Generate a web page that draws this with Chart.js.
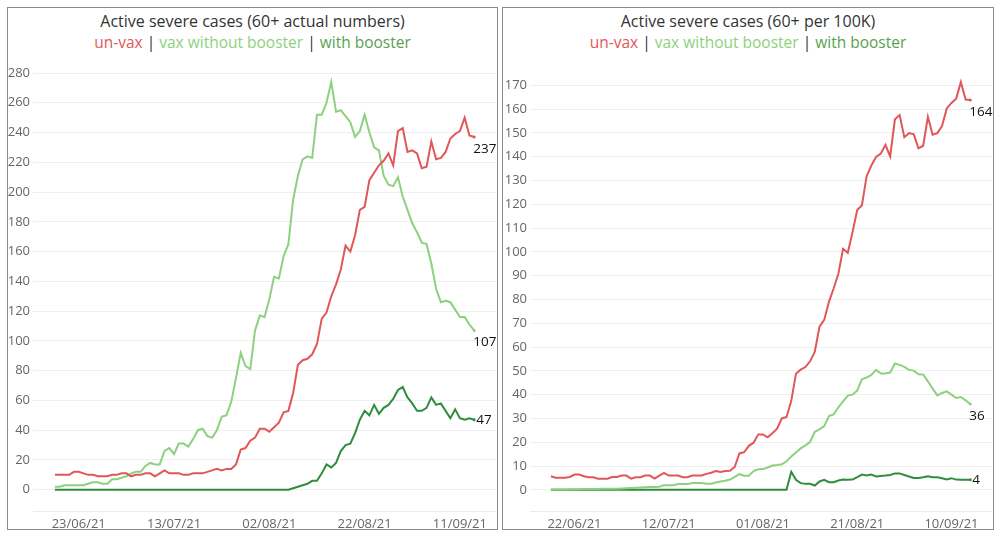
<!DOCTYPE html>
<html>
<head>
<meta charset="utf-8">
<script src="https://cdn.jsdelivr.net/npm/chart.js@4.4.1/dist/chart.umd.min.js"></script>
<style>
  html, body { margin:0; padding:0; background:#fff; }
  body { width:1000px; height:535px; position:relative; overflow:hidden; font-family:"Open Sans", sans-serif; }
  .panel { position:absolute; border:1px solid #8a8a8a; box-sizing:border-box; background:#fff; }
  .title { position:absolute; left:0; right:0; top:2px; text-align:center; font-size:16px; color:#333; line-height:22px; white-space:nowrap; }
  .sub { position:absolute; left:0; right:0; top:23px; text-align:center; font-size:15.5px; color:#333; line-height:22px; white-space:nowrap; }
  .red { color:#e15759; }
  .lg { color:#8cd17d; }
  .dg { color:#59a14f; }
  canvas { position:absolute; }
</style>
</head>
<body>
<div class="panel" id="p1" style="left:7px;top:7px;width:491px;height:523px;">
  <div class="title">Active severe cases (60+ actual numbers)</div>
  <div class="sub"><span class="red">un-vax</span> | <span class="lg">vax without booster</span> | <span class="dg">with booster</span></div>
  <canvas id="c1" width="489" height="479" style="left:0px;top:42px;"></canvas>
</div>
<div class="panel" id="p2" style="left:502px;top:7px;width:492px;height:523px;">
  <div class="title">Active severe cases (60+ per 100K)</div>
  <div class="sub"><span class="red">un-vax</span> | <span class="lg">vax without booster</span> | <span class="dg">with booster</span></div>
  <canvas id="c2" width="490" height="479" style="left:0px;top:42px;"></canvas>
</div>
<script>
// ---------- DATA ----------
const leftStart = '2021-06-18';
const rightStart = '2021-06-17';

const leftXTicks = ['23/06/21','13/07/21','02/08/21','22/08/21','11/09/21'];
const rightXTicks = ['22/06/21','12/07/21','01/08/21','21/08/21','10/09/21'];
const leftYTicks = [0,20,40,60,80,100,120,140,160,180,200,220,240,260,280];
const rightYTicks = [0,10,20,30,40,50,60,70,80,90,100,110,120,130,140,150,160,170];

// Left chart: actual numbers
const leftUnvax = [10,10,10,10,12,12,11,10,10,9,
  9,9,10,10,11,11,9,10,10,11,
  11,9,11,13,11,11,11,10,10,11,
  11,11,12,13,14,13,14,14,17,27,
  28,33,35,41,41,39,42,45,52,53,
  65,84,87,88,91,98,115,119,130,138,
  148,164,160,171,188,190,208,213,218,221,
  226,218,241,243,227,228,226,216,217,234,
  222,223,227,236,239,241,250,238,237];
const leftVax = [2,2,3,3,3,3,3,4,5,5,
  4,4,7,7,8,9,11,12,12,16,
  18,17,17,26,28,24,31,31,29,34,
  40,41,36,35,40,49,50,59,75,92,
  83,81,107,117,116,128,143,142,157,165,
  195,211,222,224,223,252,252,260,274,254,
  255,251,247,237,241,252,240,230,228,211,
  205,204,210,197,188,179,173,166,165,152,
  135,126,127,126,121,116,116,111,107];
const leftBoost = [0,0,0,0,0,0,0,0,0,0,
  0,0,0,0,0,0,0,0,0,0,
  0,0,0,0,0,0,0,0,0,0,
  0,0,0,0,0,0,0,0,0,0,
  0,0,0,0,0,0,0,0,0,0,
  1,2,3,4,6,6,11,17,15,18,
  26,30,31,38,47,53,50,57,51,55,
  57,61,67,69,62,58,53,53,55,62,
  57,58,53,48,54,48,47,48,47];

// Right chart: per 100K
const rightUnvax = [5.7,5.1,5.1,5.1,5.4,6.4,6.4,5.7,5.3,5.3,
  4.7,4.7,4.7,5.4,5.4,6,6,4.7,5.3,5.3,
  6,6,4.7,6,7.1,6,6,6,5.3,5.3,
  6,6,6,6.7,7.2,7.9,7.5,7.9,8,9.6,
  15.3,15.8,18.5,19.8,23.3,23.3,22.1,23.8,25.7,30,
  30.6,37.3,48.8,50.5,51.6,54,58.1,68.6,71.4,79,
  84.6,90.8,101.3,99.6,108.2,117.6,119.6,131.8,136.3,139.9,
  141.3,145,140.1,155.7,157.5,148.2,149.9,149.4,143.5,144.6,
  156.8,149.2,149.9,152.9,160.3,162.6,164.4,171.4,164,163.8];
const rightVax = [0.1,0.1,0.1,0.1,0.2,0.2,0.2,0.3,0.3,0.3,
  0.3,0.4,0.4,0.5,0.5,0.6,0.7,0.8,0.9,1.0,
  1.1,1.2,1.2,1.3,1.9,1.9,1.9,2.4,2.4,2.4,
  2.9,2.9,2.9,2.6,2.6,3.1,3.5,3.8,4.3,5.4,
  6.6,5.9,5.9,7.9,8.6,8.7,9.4,10.2,10.4,10.7,
  12.0,14.0,15.7,17.4,18.7,20.1,24.4,25.4,26.8,31.0,
  31.7,34.7,37.2,39.6,40.0,41.7,46.5,47.2,48.3,50.4,
  48.9,48.9,49.3,53.1,52.5,51.7,50.4,50.1,48.6,48.5,
  45.6,42.5,39.7,40.7,41.4,40.0,38.6,39.0,37.6,36.1];
const rightBoost = [0,0,0,0,0,0,0,0,0,0,
  0,0,0,0,0,0,0,0,0,0,
  0,0,0,0,0,0,0,0,0,0,
  0,0,0,0,0,0,0,0,0,0,
  0,0,0,0,0,0,0,0,0,0,
  0,7.6,4.2,2.8,2.5,2.5,1.8,3.5,4.2,3.2,
  3.2,3.9,4.3,4.2,4.3,5.3,6.4,6.0,6.4,5.6,
  5.8,6.0,6.25,6.9,6.9,6.25,5.6,5.0,5.0,5.3,
  5.7,5.3,5.3,4.9,4.4,4.9,4.3,4.2,4.2,4.2];

// ---------- helpers ----------
function makeDates(start, n) {
  const out = [];
  const d = new Date(start + 'T12:00:00Z');
  for (let i = 0; i < n; i++) {
    const dd = String(d.getUTCDate()).padStart(2,'0');
    const mm = String(d.getUTCMonth()+1).padStart(2,'0');
    const yy = String(d.getUTCFullYear()).slice(2);
    out.push(dd + '/' + mm + '/' + yy);
    d.setUTCDate(d.getUTCDate() + 1);
  }
  return out;
}
const leftDates = makeDates(leftStart, leftUnvax.length);
const rightDates = makeDates(rightStart, rightUnvax.length);

const RED = '#e15759', LG = '#8cd17d', DG = '#2f8d3e';
const FONT = '"Open Sans", sans-serif';
Chart.defaults.font.family = FONT;
Chart.defaults.font.size = 13;
Chart.defaults.color = '#666';

const endLabels = {
  id: 'endLabels',
  afterDatasetsDraw(chart) {
    const ctx = chart.ctx;
    chart.data.datasets.forEach((ds, di) => {
      const meta = chart.getDatasetMeta(di);
      const pt = meta.data[meta.data.length - 1];
      const v = ds.data[ds.data.length - 1].y;
      ctx.save();
      ctx.font = '13.5px ' + FONT;
      ctx.fillStyle = '#111';
      ctx.textAlign = 'left';
      ctx.textBaseline = 'middle';
      if (ds.endPos === 'right') ctx.fillText(String(Math.round(v)), pt.x + 2, pt.y + 0.5);
      else ctx.fillText(String(Math.round(v)), pt.x - 1, pt.y + 12);
      ctx.restore();
    });
  }
};

function series(arr, color, pos) {
  const last = arr.length - 1;
  return {
    data: arr.map((y, i) => ({x: i, y: y})),
    borderColor: color,
    backgroundColor: color,
    borderWidth: 2,
    tension: 0,
    pointRadius: (c) => c.dataIndex === last ? 1.5 : 0,
    pointBorderWidth: 0,
    pointHoverRadius: 0,
    endPos: pos
  };
}

function makeChart(id, dates, xTicks, yTicks, sets, xmin, xmax, ymin, ymax, yWidth) {
  return new Chart(document.getElementById(id), {
    type: 'line',
    data: { datasets: sets },
    plugins: [endLabels],
    options: {
      responsive: false,
      maintainAspectRatio: false,
      animation: false,
      layout: { padding: { top: 7, right: 0, left: 0, bottom: 0 } },
      plugins: { legend: { display: false }, tooltip: { enabled: false } },
      scales: {
        x: {
          type: 'linear', min: xmin, max: xmax,
          grid: { display: false, drawTicks: false },
          border: { display: true, color: '#ececec' },
          afterBuildTicks: (s) => { s.ticks = xTicks.map(l => ({ value: dates.indexOf(l) })); },
          afterFit: (s) => { s.height = 18; },
          ticks: { autoSkip: false, maxRotation: 0, padding: 5, color: '#666',
                   callback: (v) => dates[v] }
        },
        y: {
          min: ymin, max: ymax,
          grid: { color: '#efefef', drawTicks: false },
          border: { display: false },
          afterBuildTicks: (s) => { s.ticks = yTicks.map(v => ({ value: v })); },
          afterFit: (s) => { s.width = yWidth; },
          ticks: { padding: 3, color: '#666' }
        }
      }
    }
  });
}

makeChart('c1', leftDates, leftXTicks, leftYTicks,
  [series(leftUnvax, RED, 'below'), series(leftVax, LG, 'below'), series(leftBoost, DG, 'right')],
  -4.6, 92.47, -14.3, 288.2, 25);

makeChart('c2', rightDates, rightXTicks, rightYTicks,
  [series(rightUnvax, RED, 'below'), series(rightVax, LG, 'below'), series(rightBoost, DG, 'right')],
  -4.44, 93.5, -8.9, 180.3, 27);
</script>
</body>
</html>
